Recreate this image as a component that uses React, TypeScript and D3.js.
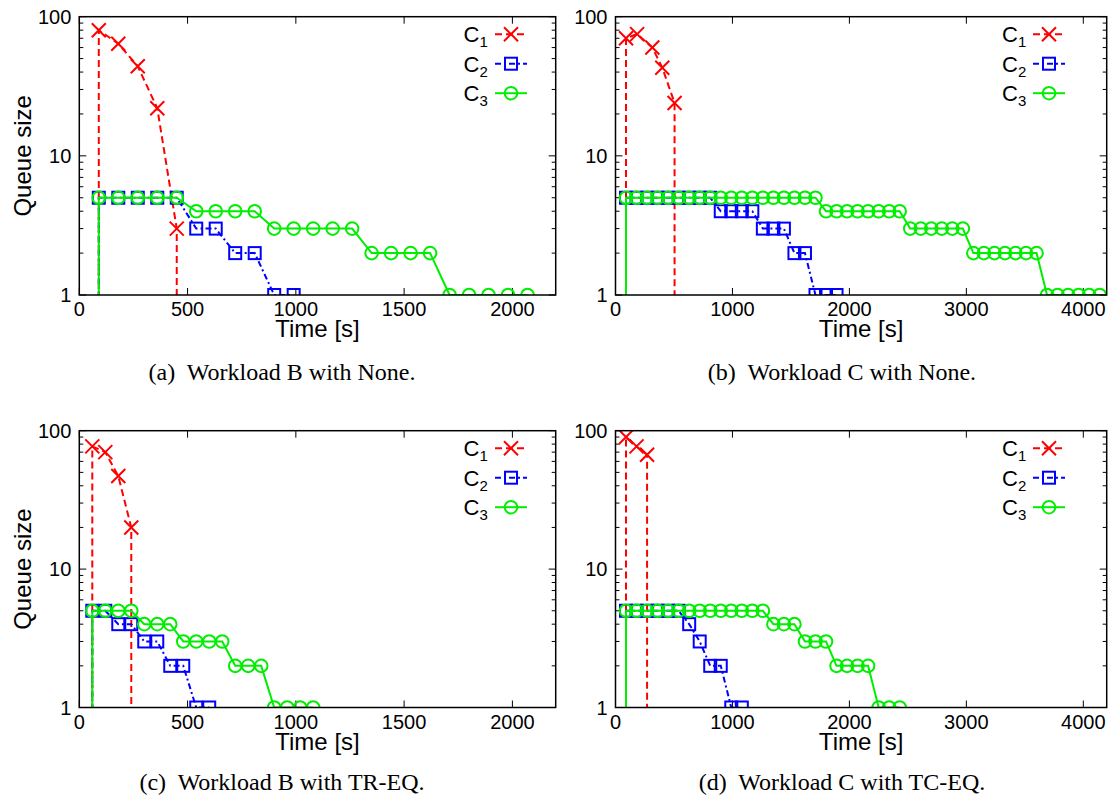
import React from 'react';
import * as d3 from 'd3';

// ---------- data ----------
const seriesNames = ['1', '2', '3'];
const yTicks = [1, 10, 100];
const xTicksB = [0, 500, 1000, 1500, 2000];
const xTicksC = [0, 1000, 2000, 3000, 4000];

// (a) Workload B with None
const aC1Time = [90, 90, 180, 270, 360, 450, 450];
const aC1Queue = [0, 80, 64, 44, 22, 3, 0];
const aC2Time = [90, 90, 180, 270, 360, 450, 540, 630, 720, 810, 900, 990];
const aC2Queue = [0, 5, 5, 5, 5, 5, 3, 3, 2, 2, 1, 1];
const aC3Time = [90, 90, 180, 270, 360, 450, 540, 630, 720, 810, 900, 990, 1080, 1170, 1260, 1350, 1440, 1530, 1620, 1710, 1800, 1890, 1980, 2070];
const aC3Queue = [0, 5, 5, 5, 5, 5, 4, 4, 4, 4, 3, 3, 3, 3, 3, 2, 2, 2, 2, 1, 1, 1, 1, 1];

// (b) Workload C with None
const bC1Time = [90, 90, 185, 315, 400, 505, 505];
const bC1Queue = [0, 70, 75, 60, 43, 24, 0];
const bC2Time = [90, 90, 180, 270, 360, 450, 540, 630, 720, 810, 900, 990, 1080, 1170, 1260, 1350, 1440, 1530, 1620, 1710, 1800, 1890];
const bC2Queue = [0, 5, 5, 5, 5, 5, 5, 5, 5, 5, 4, 4, 4, 4, 3, 3, 3, 2, 2, 1, 1, 1];
const bC3Time = [90, 90, 180, 270, 360, 450, 540, 630, 720, 810, 900, 990, 1080, 1170, 1260, 1350, 1440, 1530, 1620, 1710,
  1800, 1890, 1980, 2070, 2160, 2250, 2340, 2430,
  2520, 2610, 2700, 2790, 2880, 2970,
  3060, 3150, 3240, 3330, 3420, 3510, 3600,
  3690, 3780, 3870, 3960, 4050, 4140];
const bC3Queue = [0, 5, 5, 5, 5, 5, 5, 5, 5, 5, 5, 5, 5, 5, 5, 5, 5, 5, 5, 5,
  4, 4, 4, 4, 4, 4, 4, 4,
  3, 3, 3, 3, 3, 3,
  2, 2, 2, 2, 2, 2, 2,
  1, 1, 1, 1, 1, 1];

// (c) Workload B with TR-EQ
const cC1Time = [60, 60, 120, 180, 240, 240];
const cC1Queue = [0, 77, 70, 47, 20, 0];
const cC2Time = [60, 60, 120, 180, 240, 300, 360, 420, 480, 540, 600];
const cC2Queue = [0, 5, 5, 4, 4, 3, 3, 2, 2, 1, 1];
const cC3Time = [60, 60, 120, 180, 240, 300, 360, 420, 480, 540, 600, 660, 720, 780, 840, 900, 960, 1020, 1080];
const cC3Queue = [0, 5, 5, 5, 5, 4, 4, 4, 3, 3, 3, 3, 2, 2, 2, 1, 1, 1, 1];

// (d) Workload C with TC-EQ
const dC1Time = [90, 90, 180, 270, 270];
const dC1Queue = [0, 90, 77, 67, 0];
const dC2Time = [90, 90, 180, 270, 360, 450, 540, 630, 720, 810, 900, 990, 1080];
const dC2Queue = [0, 5, 5, 5, 5, 5, 5, 4, 3, 2, 2, 1, 1];
const dC3Time = [90, 90, 180, 270, 360, 450, 540, 630, 720, 810, 900, 990, 1080, 1170, 1260,
  1350, 1440, 1530, 1620, 1710, 1800, 1890, 1980, 2070, 2160, 2250, 2340, 2430];
const dC3Queue = [0, 5, 5, 5, 5, 5, 5, 5, 5, 5, 5, 5, 5, 5, 5,
  4, 4, 4, 3, 3, 3, 2, 2, 2, 2, 1, 1, 1];

const captions = [
  '(a)  Workload B with None.',
  '(b)  Workload C with None.',
  '(c)  Workload B with TR-EQ.',
  '(d)  Workload C with TC-EQ.',
];

// ---------- styles ----------
const COLORS = ['#ff0000', '#0000ff', '#00ee00'];
const DASHES = ['7,4', '6,3,2,3', null];
const SANS = '"Liberation Sans", Arial, Helvetica, sans-serif';
const SERIF = '"Liberation Serif", "Times New Roman", serif';

type Pt = [number, number];
const zip = (t: number[], q: number[]): Pt[] => t.map((v, i) => [v, q[i]]);

interface PanelCfg {
  id: string;
  left: number; right: number; top: number; bottom: number;
  xMax: number; xTicks: number[];
  series: Pt[][];
  legendText: number; legendX1: number; legendX2: number;
  yLabel: boolean;
  caption: string; captionX: number; captionY: number;
}

function Marker({ kind, cx, cy, color }: { kind: number; cx: number; cy: number; color: string }) {
  if (kind === 0) {
    const s = 7;
    return <path d={`M${cx - s},${cy - s}L${cx + s},${cy + s}M${cx - s},${cy + s}L${cx + s},${cy - s}`} stroke={color} strokeWidth={2} fill="none" />;
  }
  if (kind === 1) {
    return <rect x={cx - 6} y={cy - 6} width={12} height={12} stroke={color} strokeWidth={2} fill="none" />;
  }
  return <circle cx={cx} cy={cy} r={6.3} stroke={color} strokeWidth={2} fill="none" />;
}

function Panel({ p }: { p: PanelCfg }) {
  const x = d3.scaleLinear().domain([0, p.xMax]).range([p.left, p.right]);
  const y = d3.scaleLog().domain([1, 100]).range([p.bottom, p.top]);
  const allY = y.ticks();
  const minor = allY.filter(v => !yTicks.includes(v));
  const yPos = (q: number) => (q > 0 ? y(q) : p.bottom + 3);
  const line = d3.line<Pt>().x(d => x(d[0])).y(d => yPos(d[1]));
  const clipId = `clip-${p.id}`;
  const cxMid = (p.left + p.right) / 2;
  const cyMid = (p.top + p.bottom) / 2;
  const legendMid = (p.legendX1 + p.legendX2) / 2;
  return (
    <g>
      <defs>
        <clipPath id={clipId}>
          <rect x={p.left} y={p.top} width={p.right - p.left} height={p.bottom - p.top} />
        </clipPath>
      </defs>
      {/* ticks */}
      <g stroke="#000" strokeWidth={1}>
        {yTicks.map(v => (
          <g key={`yt${v}`}>
            <line x1={p.left} x2={p.left + 7} y1={y(v)} y2={y(v)} />
            <line x1={p.right} x2={p.right - 7} y1={y(v)} y2={y(v)} />
          </g>
        ))}
        {minor.map(v => (
          <g key={`ym${v}`}>
            <line x1={p.left} x2={p.left + 4} y1={y(v)} y2={y(v)} />
            <line x1={p.right} x2={p.right - 4} y1={y(v)} y2={y(v)} />
          </g>
        ))}
        {p.xTicks.map(v => (
          <g key={`xt${v}`}>
            <line x1={x(v)} x2={x(v)} y1={p.bottom} y2={p.bottom - 7} />
            <line x1={x(v)} x2={x(v)} y1={p.top} y2={p.top + 7} />
          </g>
        ))}
      </g>
      {/* tick labels */}
      <g fontFamily={SANS} fontSize={20} fill="#000">
        {yTicks.map(v => (
          <text key={`yl${v}`} x={p.left - 8} y={y(v)} dy="0.36em" textAnchor="end">{v}</text>
        ))}
        {p.xTicks.map(v => (
          <text key={`xl${v}`} x={x(v)} y={p.bottom + 21} textAnchor="middle">{v}</text>
        ))}
      </g>
      {/* axis labels */}
      <text x={cxMid} y={p.bottom + 42} textAnchor="middle" fontFamily={SANS} fontSize={24}>Time [s]</text>
      {p.yLabel && (
        <text transform={`translate(31,${cyMid}) rotate(-90)`} textAnchor="middle" fontFamily={SANS} fontSize={24}>Queue size</text>
      )}
      {/* series */}
      <g clipPath={`url(#${clipId})`}>
        {p.series.map((s, i) => (
          <g key={`s${i}`}>
            <path d={line(s) || ''} fill="none" stroke={COLORS[i]} strokeWidth={2} strokeDasharray={DASHES[i] || undefined} />
            {s.filter(d => d[1] > 0).map((d, j) => (
              <Marker key={j} kind={i} cx={x(d[0])} cy={y(d[1])} color={COLORS[i]} />
            ))}
          </g>
        ))}
      </g>
      {/* legend */}
      {seriesNames.map((n, i) => {
        const ly = p.top + 17.5 + 29.5 * i;
        return (
          <g key={`lg${i}`}>
            <text x={p.legendText} y={ly + 8} fontFamily={SANS} fontSize={22}>
              C<tspan fontSize={15} dy={5}>{n}</tspan>
            </text>
            <line x1={p.legendX1} x2={p.legendX2} y1={ly} y2={ly} stroke={COLORS[i]} strokeWidth={2} strokeDasharray={DASHES[i] || undefined} />
            <Marker kind={i} cx={legendMid} cy={ly} color={COLORS[i]} />
          </g>
        );
      })}
      {/* frame */}
      <rect x={p.left} y={p.top} width={p.right - p.left} height={p.bottom - p.top} fill="none" stroke="#000" strokeWidth={1.5} />
      {/* caption */}
      <text x={p.captionX} y={p.captionY} textAnchor="middle" fontFamily={SERIF} fontSize={24} style={{ whiteSpace: 'pre' }}>{p.caption}</text>
    </g>
  );
}

const LEFT_COL = { left: 79.3, right: 555.7, legendText: 463.5, legendX1: 495, legendX2: 527, captionX: 282, yLabel: true };
const RIGHT_COL = { left: 615.5, right: 1106.7, legendText: 1002, legendX1: 1033, legendX2: 1065, captionX: 842, yLabel: false };
const TOP_ROW = { top: 16.7, bottom: 295, captionY: 380 };
const BOT_ROW = { top: 430.7, bottom: 707.5, captionY: 790 };

const panels: PanelCfg[] = [
  { id: 'a', ...LEFT_COL, ...TOP_ROW, xMax: 2200, xTicks: xTicksB, caption: captions[0],
    series: [zip(aC1Time, aC1Queue), zip(aC2Time, aC2Queue), zip(aC3Time, aC3Queue)] },
  { id: 'b', ...RIGHT_COL, ...TOP_ROW, xMax: 4200, xTicks: xTicksC, caption: captions[1],
    series: [zip(bC1Time, bC1Queue), zip(bC2Time, bC2Queue), zip(bC3Time, bC3Queue)] },
  { id: 'c', ...LEFT_COL, ...BOT_ROW, xMax: 2200, xTicks: xTicksB, caption: captions[2],
    series: [zip(cC1Time, cC1Queue), zip(cC2Time, cC2Queue), zip(cC3Time, cC3Queue)] },
  { id: 'd', ...RIGHT_COL, ...BOT_ROW, xMax: 4200, xTicks: xTicksC, caption: captions[3],
    series: [zip(dC1Time, dC1Queue), zip(dC2Time, dC2Queue), zip(dC3Time, dC3Queue)] },
];

export default function App() {
  return (
    <svg width={1114} height={801} style={{ position: 'absolute', left: 0, top: 0, background: '#fff' }}>
      <rect width={1114} height={801} fill="#fff" />
      {panels.map(p => <Panel key={p.id} p={p} />)}
    </svg>
  );
}
